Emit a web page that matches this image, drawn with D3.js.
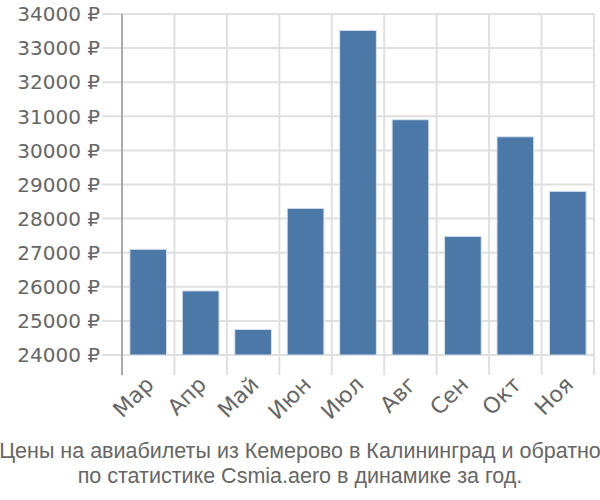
<!DOCTYPE html>
<html><head><meta charset="utf-8">
<script src="https://cdn.jsdelivr.net/npm/d3@7"></script>
<style>body{margin:0;background:#fff}svg{display:block}</style>
</head><body>
<svg id="c" width="600" height="500"></svg>
<script>
const months = ["Мар","Апр","Май","Июн","Июл","Авг","Сен","Окт","Ноя"];
const prices = [27100, 25880, 24750, 28300, 33520, 30900, 27480, 30400, 28800];
const yTicks = [24000,25000,26000,27000,28000,29000,30000,31000,32000,33000,34000];
const titleLines = ["Цены на авиабилеты из Кемерово в Калининград и обратно","по статистике Csmia.aero в динамике за год."];

(function(){
const svg = d3.select("#c");
const mLeft = 122, mRight = 594, mTop = 14, mBottom = 355;
const x = d3.scaleBand().domain(months).range([mLeft, mRight]).paddingInner(0.3).paddingOuter(0.15);
const xb = d3.scaleBand().domain(months).range([mLeft, mRight]);
const y = d3.scaleLinear().domain([24000, 34000]).range([mBottom, mTop]);
const font = "'Liberation Sans', Arial, sans-serif";
const font2 = "'DejaVu Sans', sans-serif";

svg.append("g").selectAll("line").data(yTicks).join("line")
  .attr("x1", 102).attr("x2", mRight).attr("y1", d=>y(d)).attr("y2", d=>y(d))
  .attr("stroke", "#e0e0e0").attr("stroke-width", 2);
const bounds = months.map(m=>xb(m)).concat([mRight]);
svg.append("g").selectAll("line").data(bounds.slice(1)).join("line")
  .attr("x1", d=>d).attr("x2", d=>d).attr("y1", mTop).attr("y2", mBottom+20)
  .attr("stroke", "#e0e0e0").attr("stroke-width", 2);
svg.append("line").attr("x1", mLeft).attr("x2", mLeft).attr("y1", mTop).attr("y2", mBottom+20)
  .attr("stroke", "#aaaaaa").attr("stroke-width", 2);

svg.append("g").selectAll("rect").data(prices).join("rect")
  .attr("x", (d,i)=>x(months[i])).attr("width", x.bandwidth())
  .attr("y", d=>y(d)).attr("height", d=>y(24000)-y(d))
  .attr("fill", "#4c78a8").attr("stroke", "#d8e2ee").attr("stroke-width", 1);

svg.append("g").selectAll("text").data(yTicks).join("text")
  .attr("x", 100).attr("y", d=>y(d)).attr("dy", "0.36em").attr("text-anchor", "end")
  .attr("font-family", font2).attr("font-size", 20).attr("fill", "#666")
  .text(d=>d + " ₽");

svg.append("g").selectAll("text").data(months).join("text")
  .attr("transform", d=>`translate(${xb(d)+xb.bandwidth()/2-4},${mBottom+20}) rotate(-45)`)
  .attr("text-anchor", "end").attr("dy", "0.7em")
  .attr("font-family", font2).attr("font-size", 22).attr("fill", "#666")
  .text(d=>d);

svg.append("g").selectAll("text").data(titleLines).join("text")
  .attr("x", 300).attr("y", (d,i)=>458+i*25).attr("text-anchor", "middle")
  .attr("font-family", font).attr("font-size", 21.5).attr("fill", "#666")
  .text(d=>d);
})();
</script>
</body></html>
